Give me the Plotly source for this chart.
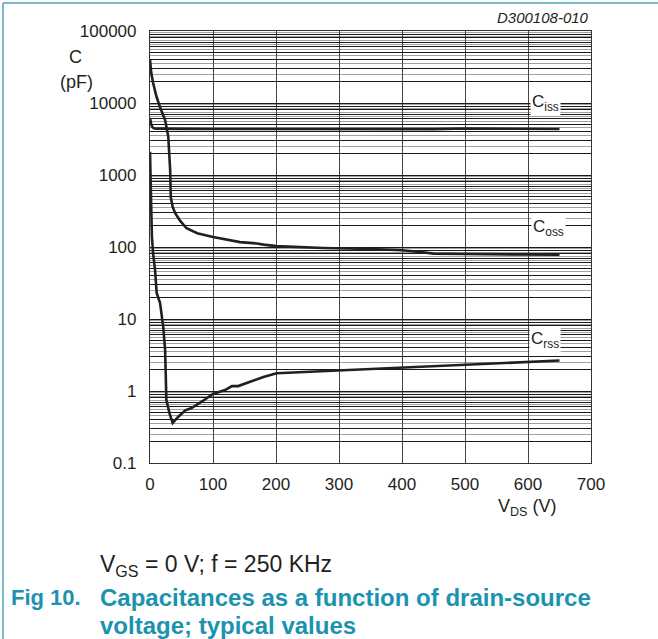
import math
import plotly.graph_objects as go

# ---- data ----
vds_ciss = [0, 2, 4, 6, 10, 20, 50, 100, 200, 300, 400, 450, 500, 550, 600, 650]
ciss = [6200, 5000, 4600, 4450, 4400, 4380, 4370, 4360, 4350, 4350, 4320, 4340, 4420, 4380, 4350, 4350]

vds_coss = [0, 2, 5, 10, 16, 24, 29, 31, 32, 33, 36, 40, 48, 58, 75, 100, 143, 170,
            180, 201, 275, 350, 400, 430, 450, 500, 600, 650]
coss = [40000, 26000, 19000, 12500, 8700, 5800, 3400, 2000, 1170, 490, 360, 295, 230,
        182, 155, 138, 117, 112, 108, 103, 97, 94, 90, 85, 81, 80, 79, 78]

vds_crss = [0, 1, 2, 3, 5, 8, 10.6, 16, 21, 24, 26, 31, 36, 45, 56, 66, 82, 100, 119,
            130, 140, 159, 180, 201, 286, 397, 500, 600, 650]
crss = [2100, 600, 250, 140, 80, 48, 23, 16.6, 7.8, 3.7, 0.75, 0.49, 0.36, 0.44, 0.54,
        0.58, 0.71, 0.91, 1.03, 1.17, 1.17, 1.35, 1.56, 1.76, 1.9, 2.09, 2.3, 2.5, 2.65]

x_ticks = [0, 100, 200, 300, 400, 500, 600, 700]
y_ticks = [0.1, 1, 10, 100, 1000, 10000, 100000]
y_tick_text = ["0.1", "1", "10", "100", "1000", "10000", "100000"]

labels = ["C<sub>iss</sub>", "C<sub>oss</sub>", "C<sub>rss</sub>"]
label_x = [627, 632, 627]
label_y = [10000, 182, 5.1]

TXT = "#231f20"
TEAL = "#1a93b0"
FONT = "Liberation Sans, Arial, sans-serif"

# grid positions: black at integer multiples, grey at half multiples
decades = [0.1, 1, 10, 100, 1000, 10000]
major_vals, major_text = [], []
for d in decades:
    for k in range(1, 10):
        major_vals.append(k * d)
        major_text.append(y_tick_text[y_ticks.index(d)] if k == 1 else "")
major_vals.append(100000)
major_text.append("100000")
minor_vals = [(k + 0.5) * d for d in decades for k in range(2, 10)]

fig = go.Figure()
for xs, ys in [(vds_ciss, ciss), (vds_coss, coss), (vds_crss, crss)]:
    fig.add_trace(go.Scatter(x=xs, y=ys, mode="lines",
                             line=dict(color=TXT, width=2.6), showlegend=False,
                             hoverinfo="skip"))

for t, lx, ly in zip(labels, label_x, label_y):
    fig.add_annotation(x=lx, y=math.log10(ly), text=t, showarrow=False,
                       font=dict(family=FONT, size=17, color=TXT), bgcolor="white",
                       borderpad=1, xanchor="center", yanchor="middle")

fig.update_layout(
    width=658, height=639,
    margin=dict(l=150, r=67, t=31, b=176),
    paper_bgcolor="white", plot_bgcolor="white",
    font=dict(family=FONT, size=17, color=TXT),
    xaxis=dict(range=[0, 700], tickvals=x_ticks, showgrid=True, gridcolor="#444444",
               gridwidth=1, showline=True, linecolor="#333333", linewidth=1.2,
               mirror=True, ticks="", zeroline=False, ticklabelstandoff=5,
               tickfont=dict(size=17, color=TXT)),
    yaxis=dict(type="log", range=[-1, 5], tickvals=major_vals, ticktext=major_text,
               showgrid=True, gridcolor="#1a1a1a", gridwidth=1,
               minor=dict(tickvals=minor_vals, showgrid=True, gridcolor="#a0a0a0",
                          gridwidth=1, ticks=""),
               showline=True, linecolor="#333333", linewidth=1.2, mirror=True,
               ticks="", zeroline=False, ticklabelstandoff=9,
               tickfont=dict(size=17, color=TXT)),
)

# axis unit labels
fig.add_annotation(xref="paper", yref="paper", x=-0.168, y=0.94, text="C",
                   showarrow=False, font=dict(size=18, color=TXT), xanchor="center",
                   yanchor="middle")
fig.add_annotation(xref="paper", yref="paper", x=-0.166, y=0.882, text="(pF)",
                   showarrow=False, font=dict(size=18, color=TXT), xanchor="center",
                   yanchor="middle")
fig.add_annotation(xref="paper", yref="paper", x=0.855, y=-0.104,
                   text="V<sub>DS</sub> (V)", showarrow=False,
                   font=dict(size=18, color=TXT), xanchor="center", yanchor="middle")
fig.add_annotation(xref="paper", yref="paper", x=1.0, y=1.032, text="<i>D300108-010</i>",
                   showarrow=False, font=dict(size=15, color=TXT), xanchor="right",
                   yanchor="middle")
# caption
fig.add_annotation(xref="paper", yref="paper", x=(98 - 150) / 441, y=(463 - 565) / 432,
                   text="V<sub>GS</sub> = 0 V; f = 250 KHz", showarrow=False,
                   font=dict(size=23, color=TXT), xanchor="left", yanchor="middle")
fig.add_annotation(xref="paper", yref="paper", x=(9 - 150) / 441, y=(463 - 597) / 432,
                   text="<b>Fig 10.</b>", showarrow=False, font=dict(size=22, color=TEAL),
                   xanchor="left", yanchor="middle")
fig.add_annotation(xref="paper", yref="paper", x=(98 - 150) / 441, y=(463 - 597) / 432,
                   text="<b>Capacitances as a function of drain-source</b>",
                   showarrow=False, font=dict(size=24, color=TEAL),
                   xanchor="left", yanchor="middle")
fig.add_annotation(xref="paper", yref="paper", x=(98 - 150) / 441, y=(463 - 625) / 432,
                   text="<b>voltage; typical values</b>",
                   showarrow=False, font=dict(size=24, color=TEAL),
                   xanchor="left", yanchor="middle")

# page frame
fig.add_shape(type="line", xref="paper", yref="paper", x0=(3 - 150) / 441, x1=1.2,
              y0=1 + 28 / 432, y1=1 + 28 / 432, line=dict(color="#4aa3b8", width=1.5))
fig.add_shape(type="line", xref="paper", yref="paper", x0=(3 - 150) / 441,
              x1=(3 - 150) / 441, y0=1 + 28 / 432, y1=-0.41,
              line=dict(color="#4aa3b8", width=1.5))

fig.write_html("out.html", config={"displayModeBar": False},
               post_script="document.body.style.margin='0';document.body.style.padding='0';")
